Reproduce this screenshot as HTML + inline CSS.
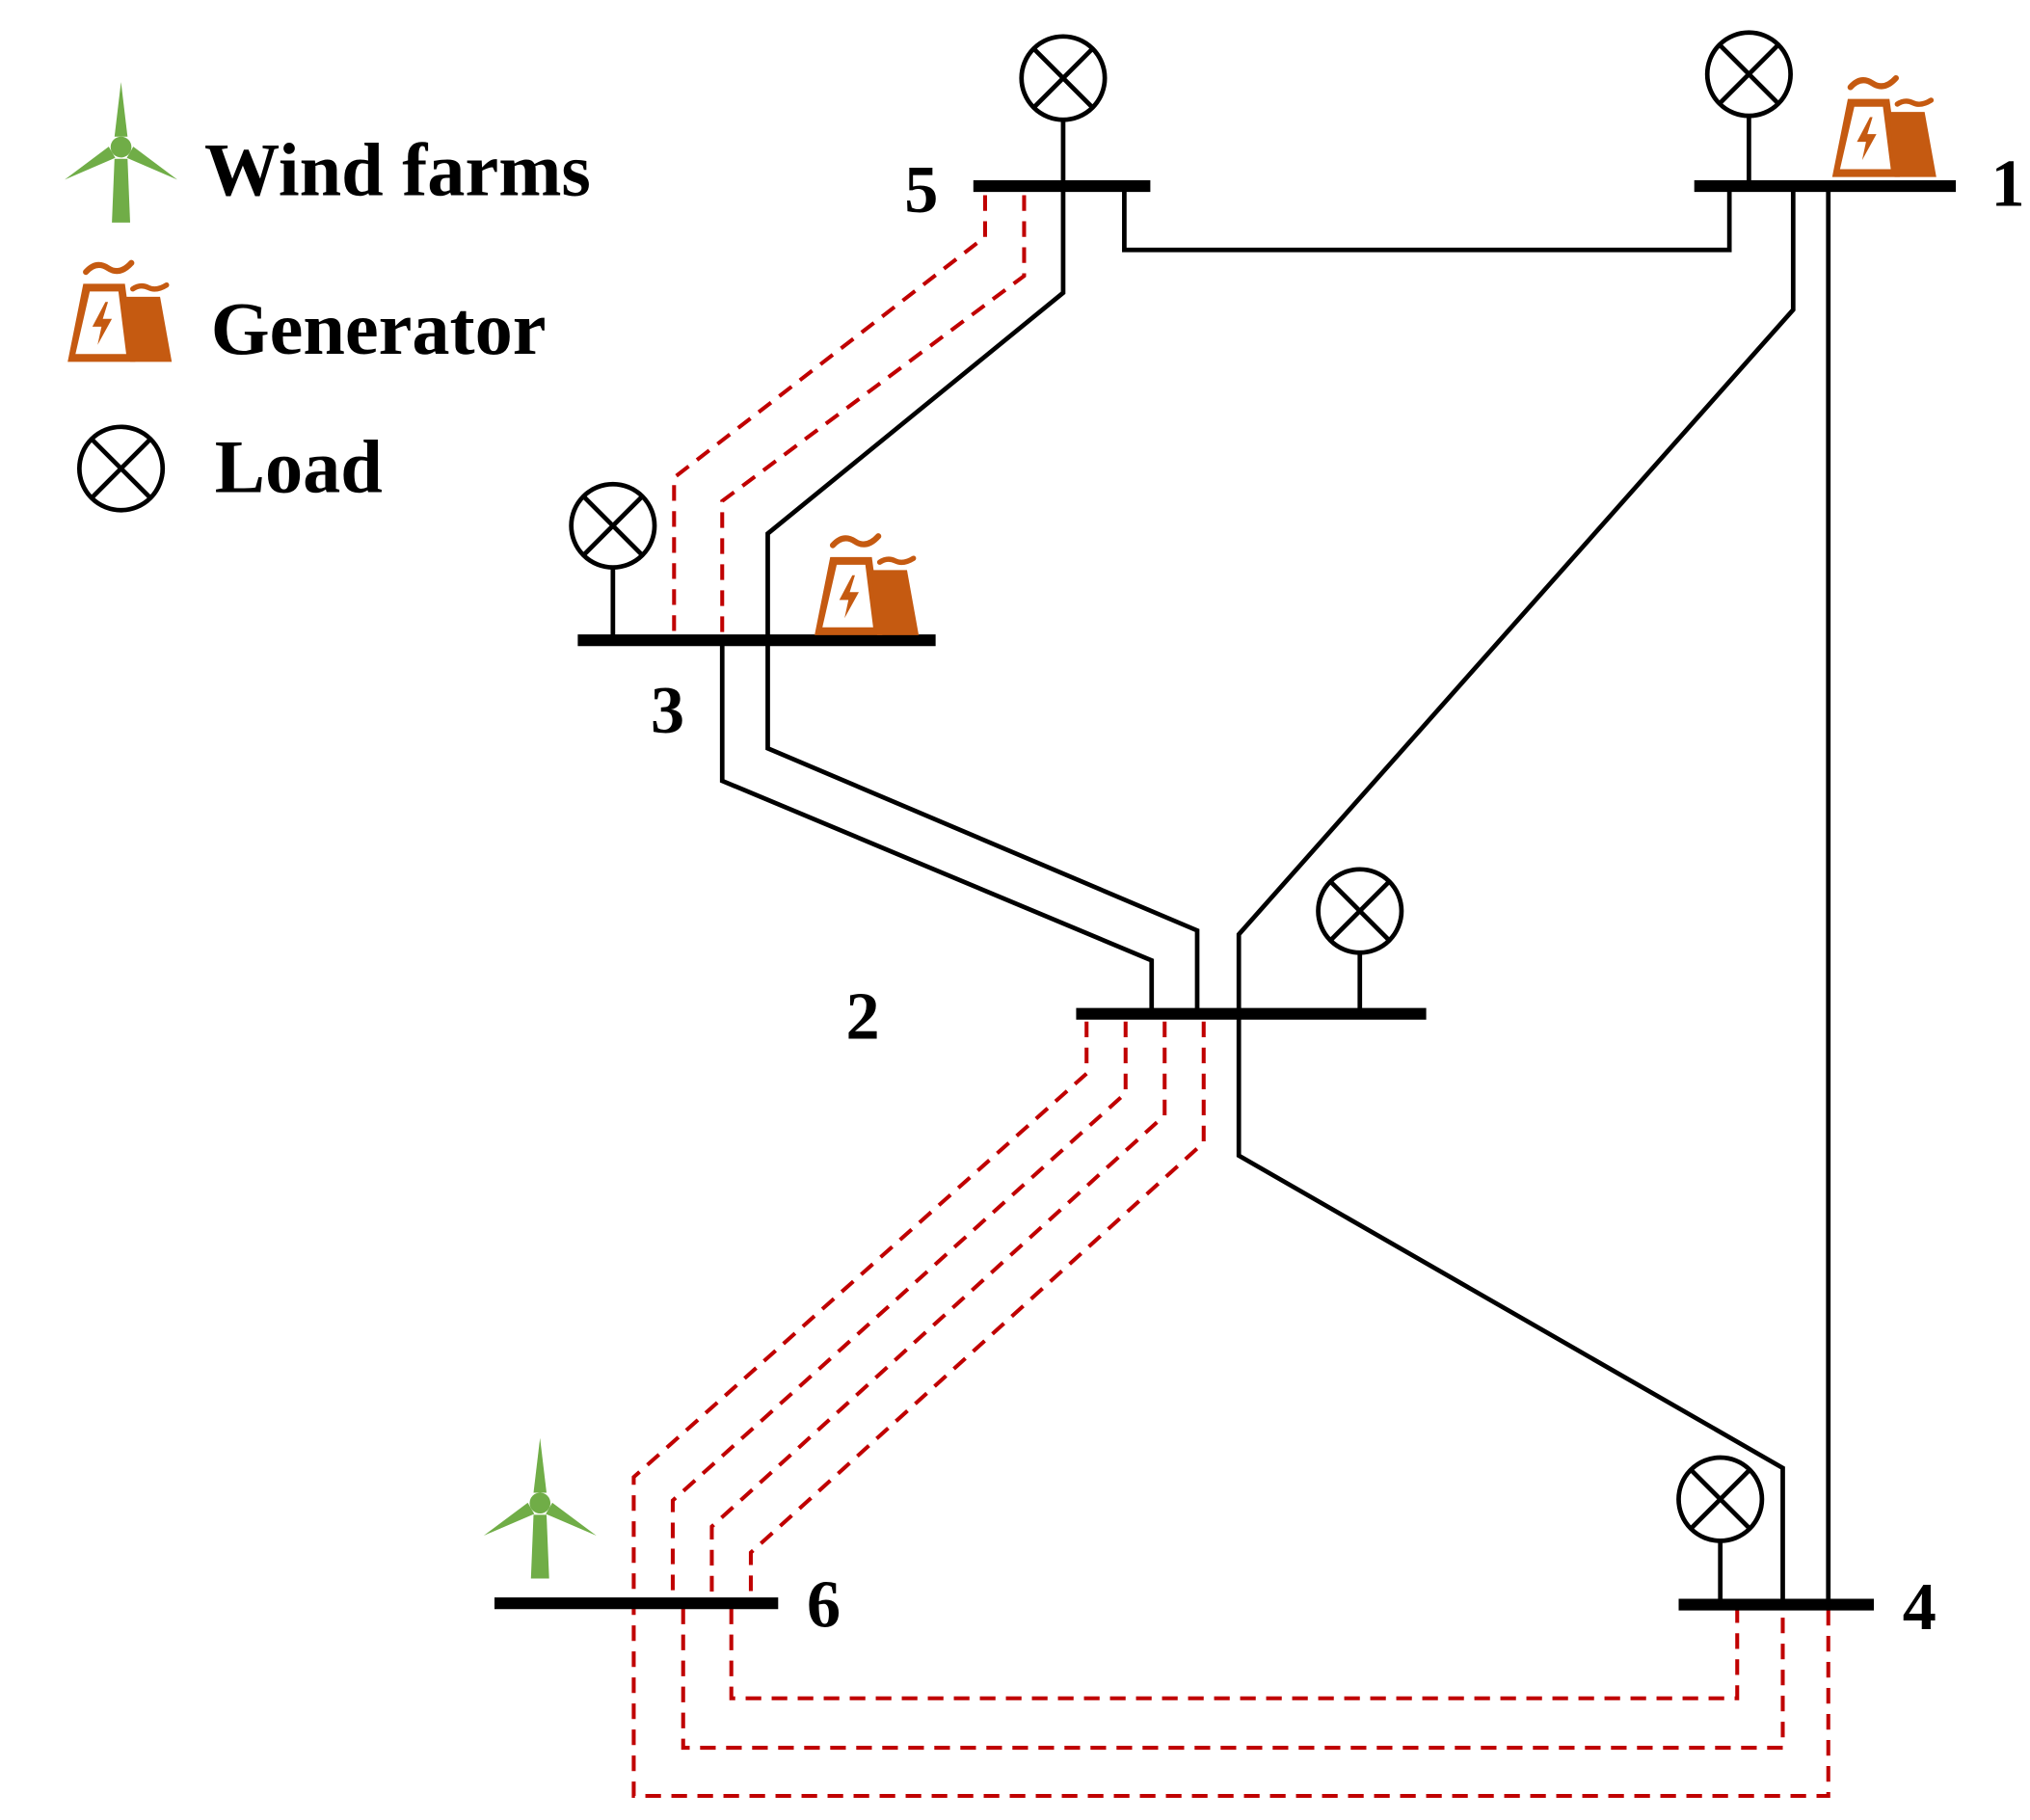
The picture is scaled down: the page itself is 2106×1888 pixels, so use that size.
<!DOCTYPE html>
<html><head><meta charset="utf-8"><style>html,body{margin:0;padding:0;background:#fff}svg{display:block}</style></head>
<body>
<svg width="2106" height="1888" viewBox="0 0 1560 1398.5" xmlns="http://www.w3.org/2000/svg">
<defs>
<g id="gen">
<path d="M14,9 q8,-9 17,-3 t18,-4" stroke="#c55a11" stroke-width="4.5" fill="none" stroke-linecap="round"/>
<path d="M50,22 q6,-4 12,-1 t14,-2" stroke="#c55a11" stroke-width="4" fill="none" stroke-linecap="round"/>
<polygon points="12,18 44,18 52,78 0,78" fill="#c55a11"/>
<polygon points="44,28 71,28 80,78 48,78" fill="#c55a11"/>
<polygon points="17,24 39,24 45,72 6,72" fill="#fff"/>
<polygon points="29,32 19,51 26,51 23,65 34,45 27,45 31,32" fill="#c55a11"/>
</g>
<g id="wind" fill="#70ad47">
<circle cx="0" cy="0" r="8"/>
<polygon points="-5,-8 0,-50 5,-8"/>
<polygon points="-5,-8 0,-50 5,-8" transform="rotate(-120)"/>
<polygon points="-5,-8 0,-50 5,-8" transform="rotate(120)"/>
<polygon points="-5,9 5,9 7,58 -7,58"/>
</g>
<g id="load" fill="none" stroke="#000" stroke-width="3.5">
<circle cx="0" cy="0" r="32"/>
<line x1="-22.6" y1="-22.6" x2="22.6" y2="22.6"/>
<line x1="-22.6" y1="22.6" x2="22.6" y2="-22.6"/>
</g>
</defs>

<use href="#wind" x="93" y="113"/>
<use href="#gen" x="52" y="200"/>
<use href="#load" x="93" y="360"/>
<g font-family="Liberation Serif, serif" font-weight="bold" fill="#000">
<text x="157" y="150" font-size="58">Wind farms</text>
<text x="162" y="272" font-size="58">Generator</text>
<text x="165" y="378" font-size="58">Load</text>
<text x="695" y="163" font-size="52">5</text>
<text x="1530" y="158" font-size="52">1</text>
<text x="500" y="563" font-size="52">3</text>
<text x="650" y="798" font-size="52">2</text>
<text x="620" y="1250" font-size="52">6</text>
<text x="1462" y="1252" font-size="52">4</text>
</g>

<g fill="none" stroke="#000" stroke-width="3.5">
<polyline points="864,143 864,192 1329,192 1329,143"/>
<polyline points="817,143 817,225 590,410 590,575 920,715 920,779"/>
<polyline points="555,492 555,600 885,738 885,779"/>
<polyline points="1378,143 1378,238 952,718 952,779"/>
<polyline points="952,779 952,888 1370,1128 1370,1233"/>
<line x1="1405" y1="143" x2="1405" y2="1233"/>
<line x1="817" y1="93" x2="817" y2="143"/>
<line x1="1344" y1="89" x2="1344" y2="143"/>
<line x1="471" y1="436" x2="471" y2="492"/>
<line x1="1045" y1="732" x2="1045" y2="779"/>
<line x1="1322" y1="1184" x2="1322" y2="1233"/>
</g>

<g fill="none" stroke="#c00000" stroke-width="3" stroke-dasharray="12,8">
<polyline points="757,150 757,182 518,367 518,492"/>
<polyline points="787,150 787,212 555,385 555,492"/>
<polyline points="835,785 835,825 487,1135 487,1380 1405,1380 1405,1237"/>
<polyline points="865,785 865,840 517,1153 517,1232"/>
<polyline points="895,785 895,857 547,1173 547,1232"/>
<polyline points="925,785 925,878 577,1193 577,1232"/>
<polyline points="525,1236 525,1343 1370,1343 1370,1237"/>
<polyline points="562,1236 562,1305 1335,1305 1335,1237"/>
</g>

<g stroke="#000" stroke-width="9">
<line x1="748" y1="143" x2="884" y2="143"/>
<line x1="1302" y1="143" x2="1503" y2="143"/>
<line x1="444" y1="492" x2="719" y2="492"/>
<line x1="827" y1="779" x2="1096" y2="779"/>
<line x1="380" y1="1232" x2="598" y2="1232"/>
<line x1="1290" y1="1233" x2="1440" y2="1233"/>
</g>

<use href="#load" x="817" y="60"/>
<use href="#load" x="1344" y="57"/>
<use href="#load" x="471" y="404"/>
<use href="#load" x="1045" y="700"/>
<use href="#load" x="1322" y="1152"/>

<use href="#gen" x="1408" y="58"/>
<use href="#gen" x="626" y="410"/>

<use href="#wind" x="415" y="1155"/>
</svg>
</body></html>
